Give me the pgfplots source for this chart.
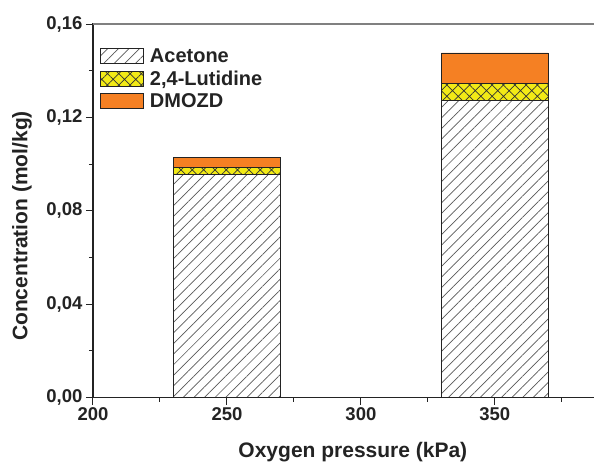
\documentclass[border=0pt]{standalone}
\usepackage{pgfplots}
\pgfplotsset{compat=1.18}
\usepackage{fontspec}
\setmainfont{Liberation Sans}
\usetikzlibrary{patterns.meta}
\definecolor{dmozd}{RGB}{245,128,35}
\definecolor{lut}{RGB}{242,234,22}
\definecolor{axgray}{RGB}{35,35,35}
\begin{document}
\begin{tikzpicture}
\useasboundingbox (-93pt,-66.5pt) rectangle (501pt,397.5pt);
\begin{axis}[
  scale only axis,
  width=535.8pt, height=373.5pt,
  at={(0pt,0pt)}, anchor=south west,
  xmin=200, xmax=400, ymin=0, ymax=0.16,
  clip=false,
  tick pos=left,
  tick align=outside,
  major tick length=7pt, minor tick length=4pt,
  tick style={axgray, line width=1pt},
  axis line style={axgray, line width=1.2pt},
  xtick={200,250,300,350},
  minor xtick={225,275,325,375},
  ytick={0,0.04,0.08,0.12,0.16},
  minor ytick={0.02,0.06,0.10,0.14},
  /pgf/number format/assume math mode=true,
  yticklabel style={/pgf/number format/.cd, fixed, fixed zerofill, precision=2, use comma},
  xticklabel style={/pgf/number format/.cd, fixed, precision=0},
  tick label style={font=\fontsize{18.5}{22}\selectfont\bfseries, text=axgray},
  xlabel={Oxygen pressure (kPa)},
  ylabel={Concentration (mol/kg)},
  every axis x label/.style={at={(axis description cs:0.485,-0.146)}, anchor=center,
    font=\fontsize{21}{25}\selectfont\bfseries, text=axgray},
  every axis y label/.style={at={(axis description cs:-0.1325,0.459)}, anchor=center, rotate=90,
    font=\fontsize{21}{25}\selectfont\bfseries, text=axgray},
  ybar stacked,
  bar width=40,
  legend cell align=left,
  legend image code/.code={\draw[#1] (0pt,-7.5pt) rectangle (43pt,7.5pt);},
  legend style={at={(axis description cs:0.013,0.938)}, anchor=north west,
    draw=none, fill=none, font=\fontsize{20}{24}\selectfont\bfseries,
    text=axgray, row sep=5pt, column sep=5pt, inner sep=0pt, nodes={inner sep=1pt}},
]
\addplot[draw=axgray, line width=0.8pt, fill=white,
  postaction={pattern color=black!65, pattern={Lines[angle=45,distance=7.5pt,line width=0.7pt]}}]
  coordinates {(250,0.0957) (350,0.1274)};
\addlegendentry{Acetone}
\addplot[draw=axgray, line width=0.8pt, fill=lut,
  postaction={pattern color=black!80, pattern={Hatch[angle=45,distance=8pt,line width=0.7pt]}}]
  coordinates {(250,0.0027) (350,0.0073)};
\addlegendentry{2,4-Lutidine}
\addplot[draw=axgray, line width=0.8pt, fill=dmozd]
  coordinates {(250,0.0044) (350,0.0129)};
\addlegendentry{DMOZD}
\draw[black!50, line width=1.2pt] (rel axis cs:0,1) -- (rel axis cs:1,1);
\end{axis}
\end{tikzpicture}
\end{document}
